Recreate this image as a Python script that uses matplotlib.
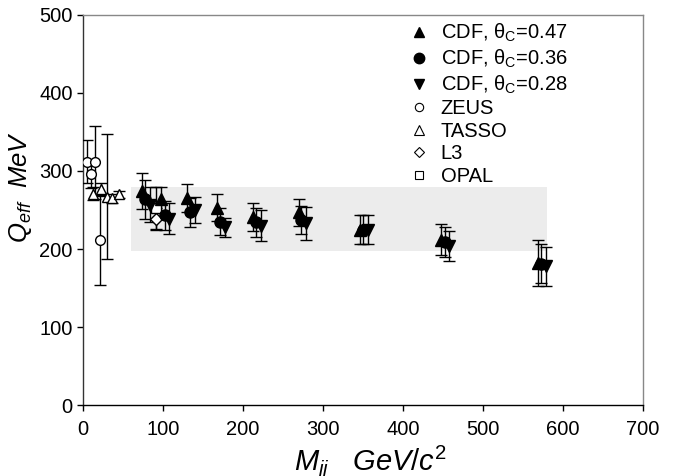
import numpy as np
import matplotlib
matplotlib.use("Agg")
import matplotlib.pyplot as plt
from matplotlib.lines import Line2D

plt.rcParams['font.family'] = ['Liberation Sans', 'DejaVu Sans']
plt.rcParams['mathtext.fontset'] = 'custom'
plt.rcParams['mathtext.rm'] = 'Liberation Sans'
plt.rcParams['mathtext.it'] = 'Liberation Sans:italic'

# CDF, three cone sizes (M_jj in GeV/c^2, Q_eff in MeV)
cdf47_x = [74, 97, 130, 167, 212, 270, 346, 448, 569]
cdf47_y = [274, 264, 265, 253, 241, 247, 225, 212, 182]
cdf47_e = [23, 15, 18, 17, 18, 17, 18, 20, 29]

cdf36_x = [78, 102, 134, 171, 216, 273, 350, 452, 573]
cdf36_y = [264, 243, 247, 235, 234, 237, 225, 209, 181]
cdf36_e = [25, 18, 19, 17, 18, 18, 18, 19, 25]

cdf28_x = [84, 107, 140, 177, 222, 279, 356, 457, 579]
cdf28_y = [257, 239, 250, 228, 230, 233, 225, 204, 178]
cdf28_e = [22, 20, 17, 12, 20, 21, 18, 19, 25]

# e+e- / ep experiments
zeus_x = [5, 15, 10, 21]
zeus_y = [312, 311, 296, 211]
zeus_e = [28, 47, 18, 57]

tasso_x = [13, 22, 30, 36, 45]
tasso_y = [271, 277, 267, 265, 270]
tasso_e = [8, 8, 80, 6, 5]

l3_x = [91]
l3_y = [239]
l3_e = [13]

opal_x = [91]
opal_y = [252]
opal_e = [27]

# shaded band
band_x = [60, 580]
band_y = [198, 279]

fig = plt.figure(figsize=(6.76, 4.76), dpi=100)
ax = fig.add_axes([0.1228, 0.149, 0.8284, 0.8196])

ax.fill_between(band_x, band_y[0], band_y[1], color='#ececec', lw=0, zorder=0)

def draw(x, y, e, mk, ms, face):
    ax.errorbar(x, y, yerr=e, fmt=mk, ms=ms, mfc=face, mec='black', mew=1.0,
                ecolor='black', elinewidth=1.0, capsize=4, capthick=1.0, zorder=3)

draw(zeus_x, zeus_y, zeus_e, 'o', 7, 'white')
draw(tasso_x, tasso_y, tasso_e, '^', 7.5, 'white')
draw(l3_x, l3_y, l3_e, 'D', 6, 'white')
draw(opal_x, opal_y, opal_e, 's', 7, 'white')
draw(cdf47_x, cdf47_y, cdf47_e, '^', 8, 'black')
draw(cdf36_x, cdf36_y, cdf36_e, 'o', 8, 'black')
draw(cdf28_x, cdf28_y, cdf28_e, 'v', 8, 'black')

ax.set_xlim(0, 700)
ax.set_ylim(0, 500)
ax.set_xticks(np.arange(0, 701, 100))
ax.set_yticks(np.arange(0, 501, 100))
ax.tick_params(direction='out', length=4, width=1, labelsize=14.5)
ax.tick_params(axis='x', pad=7)
ax.tick_params(axis='y', pad=3.5)
ax.spines['bottom'].set_color('black')
ax.spines['left'].set_color('#333333')
ax.spines['top'].set_color('#888888')
ax.spines['right'].set_color('#888888')
for s in ax.spines.values():
    s.set_linewidth(1.0)

ax.set_xlabel(r'$M_{jj}$   $GeV/c^{2}$', fontsize=21)
ax.xaxis.set_label_coords(0.5125, -0.097)
ax.set_ylabel(r'$Q_{eff}$  $MeV$', fontsize=18.5)
ax.yaxis.set_label_coords(-0.087, 0.56)

handles = [
    Line2D([], [], ls='none', marker='^', ms=7.5, mfc='black', mec='black'),
    Line2D([], [], ls='none', marker='o', ms=7.5, mfc='black', mec='black'),
    Line2D([], [], ls='none', marker='v', ms=7.5, mfc='black', mec='black'),
    Line2D([], [], ls='none', marker='o', ms=6, mfc='white', mec='black', mew=0.8),
    Line2D([], [], ls='none', marker='^', ms=6.5, mfc='white', mec='black', mew=0.8),
    Line2D([], [], ls='none', marker='D', ms=5.5, mfc='white', mec='black', mew=0.8),
    Line2D([], [], ls='none', marker='s', ms=6, mfc='white', mec='black', mew=0.8),
]
labels = [r'CDF, θ$_\mathregular{C}$=0.47', r'CDF, θ$_\mathregular{C}$=0.36',
          r'CDF, θ$_\mathregular{C}$=0.28', 'ZEUS', 'TASSO', 'L3', 'OPAL']
ax.legend(handles, labels, loc='upper left', bbox_to_anchor=(0.585, 0.982),
          frameon=False, fontsize=14.5, handlelength=0.85, handletextpad=0.65,
          labelspacing=0.175, borderpad=0, borderaxespad=0)

fig.savefig('out.png', dpi=100)
